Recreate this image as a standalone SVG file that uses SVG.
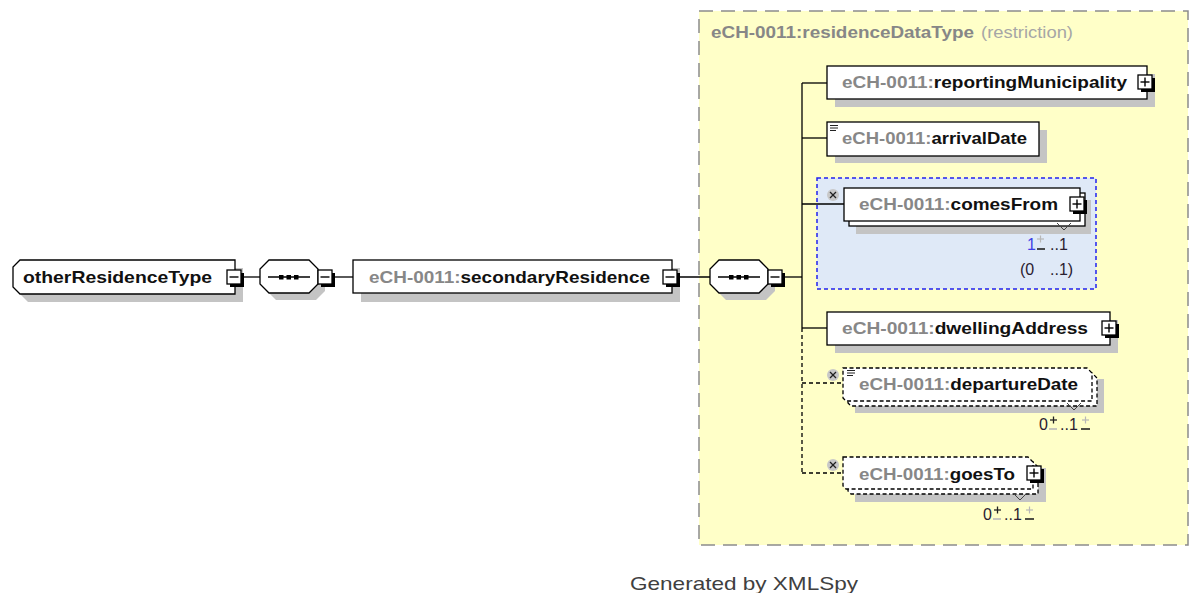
<svg xmlns="http://www.w3.org/2000/svg" xmlns:xlink="http://www.w3.org/1999/xlink" width="1189" height="593" viewBox="0 0 1189 593">
<style>
.lbl{font-family:"Liberation Sans",Arial,sans-serif;font-size:16.5px;font-weight:bold;fill:#111}
.ns{fill:#878787}
.occ{font-family:"Liberation Sans",Arial,sans-serif;font-size:16px;fill:#2a2030}
.box{fill:#fff;stroke:#000;stroke-width:1.3}
.optbox{fill:#fff;stroke:#000;stroke-width:1.3;stroke-dasharray:4 2.5}
.shadow{fill:#c4c4c4}
.con{fill:none;stroke:#000;stroke-width:1.3}
.dcon{fill:none;stroke:#000;stroke-width:1.3;stroke-dasharray:4 3}
</style>
<defs>
<g id="minus">
<rect x="3" y="3" width="14" height="14" fill="#000"/>
<rect x="0" y="0" width="14" height="14" fill="#fff" stroke="#000" stroke-width="1.3"/>
<line x1="2.5" y1="7" x2="11.5" y2="7" stroke="#000" stroke-width="1.4"/>
</g>
<g id="plus">
<rect x="3" y="3" width="14" height="14" fill="#000"/>
<rect x="0" y="0" width="14" height="14" fill="#fff" stroke="#000" stroke-width="1.3"/>
<line x1="2.5" y1="7" x2="11.5" y2="7" stroke="#000" stroke-width="1.4"/>
<line x1="7" y1="2.5" x2="7" y2="11.5" stroke="#000" stroke-width="1.4"/>
</g>
<g id="xicon">
<circle cx="0" cy="0" r="6" fill="#c8c8c8"/>
<line x1="-3" y1="-3" x2="3" y2="3" stroke="#222" stroke-width="1.3"/>
<line x1="3" y1="-3" x2="-3" y2="3" stroke="#222" stroke-width="1.3"/>
</g>
<g id="docicon">
<line x1="0" y1="0.5" x2="8" y2="0.5" stroke="#222" stroke-width="1"/>
<line x1="0" y1="3" x2="8" y2="3" stroke="#222" stroke-width="1"/>
<line x1="0" y1="5.5" x2="6" y2="5.5" stroke="#222" stroke-width="1"/>
</g>
<g id="seqdots">
<line x1="8" y1="17" x2="50" y2="17" stroke="#000" stroke-width="1.3"/>
<rect x="19" y="15" width="4.5" height="4.5" fill="#000"/>
<rect x="26.5" y="15" width="4.5" height="4.5" fill="#000"/>
<rect x="34" y="15" width="4.5" height="4.5" fill="#000"/>
</g>
</defs>

<rect width="1189" height="593" fill="#fff"/>

<g id="residenceDataType">
<rect x="699" y="11" width="489" height="534" fill="#ffffc8" stroke="#8c8c8c" stroke-width="1.5" stroke-dasharray="14 8"/>
<text class="lbl ns" x="711" y="38" textLength="263" lengthAdjust="spacingAndGlyphs">eCH-0011:residenceDataType</text>
<text x="981" y="38" textLength="92" lengthAdjust="spacingAndGlyphs" style="font-family:'Liberation Sans',Arial,sans-serif;font-size:16.5px;fill:#a6a6a6">(restriction)</text>
</g>

<g id="comesFromGroup">
<rect x="817" y="178" width="279" height="111" fill="#dfe9f7" stroke="#2222ee" stroke-width="1.5" stroke-dasharray="4 3"/>
</g>

<g id="connectors">
<line class="con" x1="242" y1="277" x2="260" y2="277"/>
<line class="con" x1="332" y1="277" x2="353" y2="277"/>
<line class="con" x1="676" y1="277" x2="710" y2="277"/>
<line class="con" x1="782" y1="277" x2="802" y2="277"/>
<line class="con" x1="802" y1="83" x2="802" y2="328"/>
<line class="con" x1="802" y1="83" x2="827" y2="83"/>
<line class="con" x1="802" y1="138" x2="827" y2="138"/>
<line class="con" x1="802" y1="204" x2="844" y2="204"/>
<line class="con" x1="802" y1="328" x2="827" y2="328"/>
<line class="dcon" x1="802" y1="328" x2="802" y2="473"/>
<line class="dcon" x1="802" y1="383" x2="843" y2="383"/>
<line class="dcon" x1="802" y1="473" x2="843" y2="473"/>
</g>

<g id="otherResidenceType">
<polygon class="shadow" points="28,268 243,268 243,302 28,302 21,295 21,275"/>
<polygon class="box" points="20,260 235,260 235,294 20,294 13,287 13,267"/>
<text class="lbl" x="23" y="283" textLength="189" lengthAdjust="spacingAndGlyphs">otherResidenceType</text>
<use xlink:href="#minus" x="227" y="270"/>
</g>

<g id="sequence1">
<polygon class="shadow" points="276,267 316,267 325,276 325,291 316,300 276,300 267,291 267,276"/>
<polygon class="box" points="269,260 309,260 318,269 318,284 309,293 269,293 260,284 260,269"/>
<use xlink:href="#seqdots" x="260" y="260"/>
<use xlink:href="#minus" x="318" y="270"/>
</g>

<g id="secondaryResidence">
<rect class="shadow" x="361" y="268" width="319" height="34"/>
<rect class="box" x="353" y="260" width="319" height="33"/>
<text class="lbl" x="369" y="283" textLength="281" lengthAdjust="spacingAndGlyphs"><tspan class="ns">eCH-0011:</tspan>secondaryResidence</text>
<use xlink:href="#minus" x="663" y="270"/>
</g>

<g id="sequence2">
<polygon class="shadow" points="726,267 766,267 775,276 775,291 766,300 726,300 717,291 717,276"/>
<polygon class="box" points="719,260 759,260 768,269 768,284 759,293 719,293 710,284 710,269"/>
<use xlink:href="#seqdots" x="710" y="260"/>
<use xlink:href="#minus" x="768" y="270"/>
</g>

<g id="reportingMunicipality">
<rect class="shadow" x="835" y="74" width="320" height="33"/>
<rect class="box" x="827" y="66" width="320" height="33"/>
<text class="lbl" x="842" y="88" textLength="285" lengthAdjust="spacingAndGlyphs"><tspan class="ns">eCH-0011:</tspan>reportingMunicipality</text>
<use xlink:href="#plus" x="1138" y="75"/>
</g>

<g id="arrivalDate">
<rect class="shadow" x="835" y="130" width="212" height="33"/>
<rect class="box" x="827" y="122" width="212" height="34"/>
<use xlink:href="#docicon" x="830" y="125"/>
<text class="lbl" x="842" y="144" textLength="185" lengthAdjust="spacingAndGlyphs"><tspan class="ns">eCH-0011:</tspan>arrivalDate</text>
</g>

<g id="comesFrom">
<rect class="shadow" x="856" y="200" width="235" height="34"/>
<rect class="box" x="849" y="193" width="236" height="33"/>
<rect class="box" x="844" y="188" width="236" height="33"/>
<use xlink:href="#xicon" x="833" y="195"/>
<text class="lbl" x="859" y="210" textLength="199" lengthAdjust="spacingAndGlyphs"><tspan class="ns">eCH-0011:</tspan>comesFrom</text>
<use xlink:href="#plus" x="1070" y="197"/>
<polyline points="1057,223 1064,230 1071,223" fill="none" stroke="#444" stroke-width="1"/>
<text class="occ" x="1027" y="250"><tspan fill="#4040e6">1</tspan></text>
<line x1="1037" y1="239" x2="1044" y2="239" stroke="#b8b8b8" stroke-width="1.2"/>
<line x1="1040.5" y1="235.5" x2="1040.5" y2="242.5" stroke="#b8b8b8" stroke-width="1.2"/>
<line x1="1037" y1="249" x2="1045" y2="249" stroke="#222" stroke-width="1.6"/>
<text class="occ" x="1050" y="250">..1</text>
<text class="occ" x="1020" y="275">(0</text>
<text class="occ" x="1050" y="275">..1)</text>
</g>

<g id="dwellingAddress">
<rect class="shadow" x="835" y="320" width="283" height="33"/>
<rect class="box" x="827" y="312" width="283" height="33"/>
<text class="lbl" x="842" y="334" textLength="246" lengthAdjust="spacingAndGlyphs"><tspan class="ns">eCH-0011:</tspan>dwellingAddress</text>
<use xlink:href="#plus" x="1102" y="321"/>
</g>

<g id="departureDate">
<rect class="shadow" x="855" y="379" width="249" height="34"/>
<polygon class="optbox" points="848,373 1092,373 1097,378 1097,406 851,406 848,403"/>
<polygon class="optbox" points="843,368 1087,368 1092,373 1092,401 846,401 843,398"/>
<use xlink:href="#xicon" x="833" y="375"/>
<use xlink:href="#docicon" x="847" y="370"/>
<text class="lbl" x="859" y="390" textLength="219" lengthAdjust="spacingAndGlyphs"><tspan class="ns">eCH-0011:</tspan>departureDate</text>
<polyline points="1067,403 1074,410 1081,403" fill="none" stroke="#444" stroke-width="1"/>
<text class="occ" x="1039" y="430">0</text>
<line x1="1050" y1="420" x2="1057" y2="420" stroke="#222" stroke-width="1.3"/>
<line x1="1053.5" y1="416.5" x2="1053.5" y2="423.5" stroke="#222" stroke-width="1.3"/>
<line x1="1049" y1="429" x2="1057" y2="429" stroke="#b8b8b8" stroke-width="1.6"/>
<text class="occ" x="1060" y="430">..1</text>
<line x1="1082" y1="420" x2="1089" y2="420" stroke="#b8b8b8" stroke-width="1.2"/>
<line x1="1085.5" y1="416.5" x2="1085.5" y2="423.5" stroke="#b8b8b8" stroke-width="1.2"/>
<line x1="1081" y1="429" x2="1090" y2="429" stroke="#222" stroke-width="1.6"/>
</g>

<g id="goesTo">
<rect class="shadow" x="855" y="468" width="191" height="34"/>
<polygon class="optbox" points="848,462 1033,462 1038,467 1038,494 851,494 848,491"/>
<polygon class="optbox" points="843,457 1028,457 1033,462 1033,489 846,489 843,486"/>
<use xlink:href="#xicon" x="833" y="465"/>
<text class="lbl" x="859" y="480" textLength="156" lengthAdjust="spacingAndGlyphs"><tspan class="ns">eCH-0011:</tspan>goesTo</text>
<use xlink:href="#plus" x="1027" y="466"/>
<polyline points="1013,493 1020,500 1027,493" fill="none" stroke="#444" stroke-width="1"/>
<text class="occ" x="983" y="520">0</text>
<line x1="994" y1="510" x2="1001" y2="510" stroke="#222" stroke-width="1.3"/>
<line x1="997.5" y1="506.5" x2="997.5" y2="513.5" stroke="#222" stroke-width="1.3"/>
<line x1="993" y1="519" x2="1001" y2="519" stroke="#b8b8b8" stroke-width="1.6"/>
<text class="occ" x="1004" y="520">..1</text>
<line x1="1026" y1="510" x2="1033" y2="510" stroke="#b8b8b8" stroke-width="1.2"/>
<line x1="1029.5" y1="506.5" x2="1029.5" y2="513.5" stroke="#b8b8b8" stroke-width="1.2"/>
<line x1="1025" y1="519" x2="1034" y2="519" stroke="#222" stroke-width="1.6"/>
</g>

<text x="630" y="590" textLength="228" lengthAdjust="spacingAndGlyphs" style="font-family:'Liberation Sans',Arial,sans-serif;font-size:19px;fill:#404040">Generated by XMLSpy</text>
</svg>
